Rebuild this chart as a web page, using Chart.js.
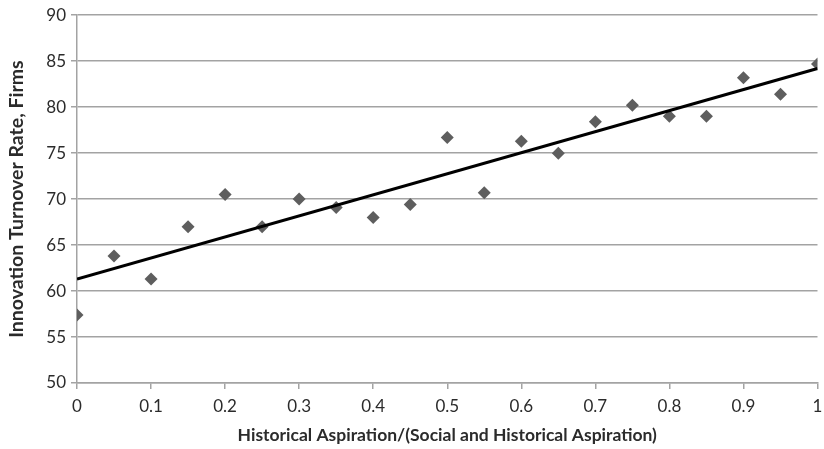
<!DOCTYPE html>
<html>
<head>
<meta charset="utf-8">
<script src="https://cdn.jsdelivr.net/npm/chart.js@4/dist/chart.umd.min.js"></script>
<style>
  html, body { margin: 0; padding: 0; background: #fff; }
  #wrap { width: 824px; height: 449px; }
</style>
</head>
<body>
<div id="wrap"><canvas id="myChart" width="824" height="449"></canvas></div>
<script>
// share of historical aspiration, 0 to 1 in steps of 0.05
var aspirationShare = [0, 0.05, 0.1, 0.15, 0.2, 0.25, 0.3, 0.35, 0.4, 0.45, 0.5,
  0.55, 0.6, 0.65, 0.7, 0.75, 0.8, 0.85, 0.9, 0.95, 1];
// innovation turnover rate for each share
var turnoverRate = [57.4, 63.8, 61.3, 67.0, 70.5, 67.0, 70.0, 69.1, 68.0, 69.4, 76.7,
  70.7, 76.3, 75.0, 78.4, 80.2, 79.0, 79.0, 83.2, 81.4, 84.7];
// linear trend, start and end
var trendX = [0, 1];
var trendY = [61.3, 84.2];

var xTicks = [0, 0.1, 0.2, 0.3, 0.4, 0.5, 0.6, 0.7, 0.8, 0.9, 1];
var yTicks = [50, 55, 60, 65, 70, 75, 80, 85, 90];

var textColor = '#2b2b2b';
var gridColor = '#a3a3a3';

var points = aspirationShare.map(function (x, i) {
  return { x: x, y: turnoverRate[i] };
});
var trend = trendX.map(function (x, i) {
  return { x: x, y: trendY[i] };
});

var ctx = document.getElementById('myChart').getContext('2d');
var chart = new Chart(ctx, {
  type: 'scatter',
  data: {
    datasets: [{
        label: 'Turnover',
        data: points,
        pointStyle: 'rectRot',
        pointRadius: 6.5,
        pointBorderWidth: 0,
        backgroundColor: '#5e5e5e',
        borderColor: '#5e5e5e',
        order: 1
      },
      {
        label: 'Trend',
        type: 'line',
        data: trend,
        borderColor: '#000000',
        borderWidth: 3,
        pointRadius: 0,
        fill: false,
        order: 0
      }
    ]
  },
  options: {
    responsive: false,
    animation: false,
    devicePixelRatio: 1,
    layout: { padding: { top: 7, right: 0, left: 0, bottom: 0 } },
    plugins: {
      legend: { display: false },
      tooltip: { enabled: false }
    },
    scales: {
      x: {
        type: 'linear',
        min: 0,
        max: 1,
        afterBuildTicks: function (scale) {
          scale.ticks = xTicks.map(function (v) { return { value: v }; });
        },
        afterFit: function (scale) {
          scale.height = 66;
          // let the "1" label hang close to the right edge
          scale.paddingRight = 4;
        },
        grid: {
          drawOnChartArea: false,
          drawTicks: true,
          tickLength: 6,
          tickColor: gridColor,
          lineWidth: 1.5
        },
        border: { color: gridColor, width: 1.5 },
        ticks: {
          color: textColor,
          padding: 7,
          maxRotation: 0,
          font: { family: 'Lato', size: 17 },
          callback: function (v) { return String(v); }
        },
        title: {
          display: true,
          text: 'Historical Aspiration/(Social and Historical Aspiration)',
          color: textColor,
          padding: { top: 0, bottom: 3 },
          font: { family: 'Lato', size: 17.5, weight: 'bold' }
        }
      },
      y: {
        min: 50,
        max: 90,
        afterBuildTicks: function (scale) {
          scale.ticks = yTicks.map(function (v) { return { value: v }; });
        },
        afterFit: function (scale) { scale.width = 77; },
        grid: {
          color: gridColor,
          lineWidth: 1.5,
          drawTicks: true,
          tickLength: 6,
          tickColor: gridColor
        },
        border: { color: gridColor, width: 1.5 },
        ticks: {
          color: textColor,
          padding: 5,
          font: { family: 'Lato', size: 17 }
        },
        title: {
          display: true,
          text: 'Innovation Turnover Rate, Firms',
          color: textColor,
          padding: { top: 5, bottom: 0 },
          font: { family: 'Lato', size: 19.5, weight: 'bold' }
        }
      }
    }
  }
});
</script>
</body>
</html>
